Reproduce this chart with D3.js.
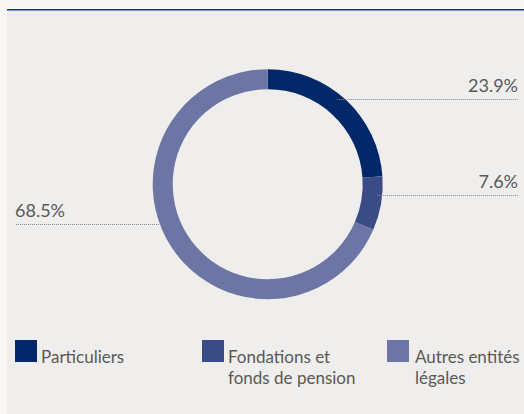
<!DOCTYPE html>
<html>
<head>
<meta charset="utf-8">
<script src="https://cdn.jsdelivr.net/npm/d3@7"></script>
<style>
  html, body { margin: 0; padding: 0; background: #f8f7f5; }
  svg { display: block; }
  text { font-family: Lato, "Open Sans", sans-serif; fill: #595959; }
</style>
</head>
<body>
<svg id="chart" width="524" height="414"></svg>
<script>
// Shareholder structure
const categories = ["Particuliers", "Fondations et fonds de pension", "Autres entités légales"];
const legendLines = [["Particuliers"], ["Fondations et", "fonds de pension"], ["Autres entités", "légales"]];
const shares = [23.9, 7.6, 68.5];
const valueLabels = ["23.9%", "7.6%", "68.5%"];
const colors = ["#03286a", "#3a4b86", "#6d75a5"];

const W = 524, H = 414;
const svg = d3.select("#chart");

// panel background and top rule
svg.append("rect").attr("x", 7).attr("y", 9).attr("width", W - 7).attr("height", H - 9).attr("fill", "#efeeec");
svg.append("rect").attr("x", 7).attr("y", 9).attr("width", W - 7).attr("height", 1).attr("fill", "#1b3568");
svg.append("rect").attr("x", 7).attr("y", 10).attr("width", W - 7).attr("height", 1).attr("fill", "#7d90b5");

// donut
const cx = 267.7, cy = 184.2, rOuter = 115, rInner = 95;
const pie = d3.pie().sort(null).value(d => d);
const arcs = pie(shares);
const arc = d3.arc().innerRadius(rInner).outerRadius(rOuter);

const g = svg.append("g").attr("transform", `translate(${cx},${cy})`);
g.selectAll("path")
  .data(arcs)
  .join("path")
  .attr("d", arc)
  .attr("fill", (d, i) => colors[i]);

// leader lines: start on the ring (angle in degrees, clockwise from top), run to the label side
const leaderAngles = [39.2, 95.7, 249];
const leaderRadius = 110;
const sides = ["right", "right", "left"];
const rightEdge = 518, leftEdge = 15;

arcs.forEach((d, i) => {
  const a = leaderAngles[i] * Math.PI / 180;
  const x0 = cx + leaderRadius * Math.sin(a);
  const y0 = Math.round(cy - leaderRadius * Math.cos(a)) + 0.5;
  const x1 = sides[i] === "right" ? rightEdge : leftEdge;
  svg.append("line")
    .attr("x1", x0).attr("y1", y0)
    .attr("x2", x1).attr("y2", y0)
    .attr("stroke", "#8a8a8a")
    .attr("stroke-width", 1)
    .attr("stroke-dasharray", "1,1");
  svg.append("text")
    .attr("x", x1)
    .attr("y", y0 - 7.5)
    .attr("text-anchor", sides[i] === "right" ? "end" : "start")
    .attr("font-size", 18)
    .text(valueLabels[i]);
});

// legend
const legendX = [15, 202, 387];
const legend = svg.selectAll("g.legend")
  .data(categories)
  .join("g")
  .attr("class", "legend")
  .attr("transform", (d, i) => `translate(${legendX[i]},340)`);

legend.append("rect")
  .attr("width", 22).attr("height", 22)
  .attr("fill", (d, i) => colors[i]);

legend.each(function (d, i) {
  const t = d3.select(this).append("text")
    .attr("y", 23)
    .attr("font-size", 17);
  t.selectAll("tspan")
    .data(legendLines[i])
    .join("tspan")
    .attr("x", i === 2 ? 28 : 26)
    .attr("dy", (s, j) => j === 0 ? 0 : 21)
    .text(s => s);
  // keep the longest line inside the panel
  const avail = W - 2 - legendX[i] - (i === 2 ? 28 : 26);
  const w = t.node().getBBox().width;
  if (w > avail) t.attr("font-size", 17 * avail / w);
});
</script>
</body>
</html>
